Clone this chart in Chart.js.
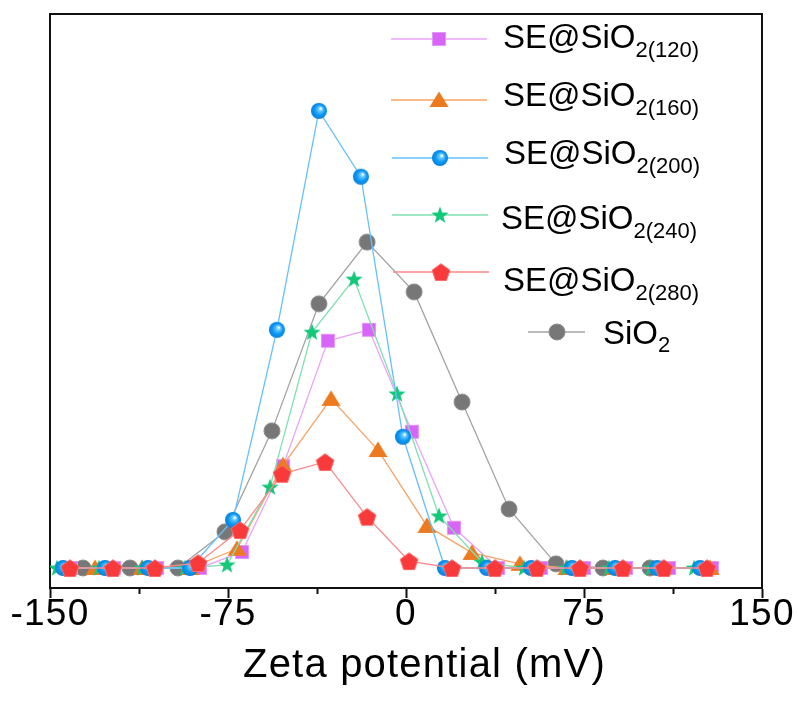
<!DOCTYPE html>
<html>
<head>
<meta charset="utf-8">
<title>Zeta potential distribution</title>
<script src="https://cdn.jsdelivr.net/npm/chart.js@4.4.1/dist/chart.umd.min.js"></script>
<style>
  html, body { margin: 0; padding: 0; background: #fff; }
  #wrap { width: 798px; height: 702px; }
</style>
</head>
<body>
<div id="wrap"><canvas id="chartZeta" width="798" height="702"></canvas></div>
<script>
// zeta potential (mV) / relative intensity, one pair per sample
const zeta120 = [-141.2, -123.0, -104.9, -86.8, -69.1, -51.8, -32.9, -15.6, 2.5, 20.2, 38.8, 56.9, 75.0, 92.7, 110.8, 128.9];
const int120  = [0, 0, 0, 0, 3.5, 22.3, 49.7, 52.1, 29.8, 8.8, 0, 0, 0, 0, 0, 0];

const zeta160 = [-131.0, -111.2, -91.0, -71.2, -51.8, -31.6, -11.8, 8.8, 27.8, 48.0, 67.8, 88.1, 107.9, 128.1];
const int160  = [0, 0, 0, 4.2, 22.5, 37.0, 25.8, 9.2, 3.3, 0.9, 0, 0, 0, 0];

const zeta200 = [-144.5, -126.8, -108.7, -91.0, -72.9, -54.4, -36.7, -19.0, -1.3, 16.4, 34.1, 52.7, 69.9, 88.1, 105.8, 123.9];
const int200  = [0, 0, 0, 0, 10.5, 52.1, 100, 85.6, 28.7, 0, 0, 0, 0, 0, 0, 0];

const zeta240 = [-147.1, -129.4, -111.2, -93.1, -75.4, -57.3, -39.6, -21.9, -3.8, 13.9, 32.0, 49.7, 67.4, 85.5, 103.2, 121.4];
const int240  = [0, 0, 0, 0, 0.7, 17.7, 51.6, 63.2, 38.1, 11.4, 1.3, 0, 0, 0, 0, 0];

const zeta280 = [-141.6, -123.5, -105.8, -87.6, -69.9, -52.2, -34.1, -16.4, 1.3, 19.4, 37.5, 55.2, 73.3, 91.4, 108.7, 126.8];
const int280  = [0, 0, 0, 1.1, 8.3, 20.6, 23.2, 11.2, 1.5, 0, 0, 0, 0, 0, 0, 0];

const zetaSiO2 = [-136.1, -116.3, -96.1, -76.3, -56.5, -36.7, -16.4, 3.4, 23.6, 43.4, 63.2, 83.0, 102.8];
const intSiO2  = [0, 0, 0, 7.9, 30.0, 57.8, 71.3, 60.4, 36.3, 12.9, 0.9, 0, 0];

const xTicks = [-150, -75, 0, 75, 150];

// marker sprites used as pointStyle
function sprite(draw) {
  const c = document.createElement('canvas');
  c.width = 22; c.height = 22;
  const g = c.getContext('2d');
  draw(g, 11);
  return c;
}

const mkSquare = sprite((g, h) => {
  g.fillStyle = '#d865f7';
  g.fillRect(h - 7, h - 7, 14, 14);
  g.strokeStyle = '#e597f9'; g.lineWidth = 1;
  g.strokeRect(h - 6.5, h - 6.5, 13, 13);
});

const mkTriangle = sprite((g, h) => {
  g.fillStyle = '#ee7a20';
  g.beginPath();
  g.moveTo(h, h - 8.5); g.lineTo(h + 9.5, h + 7); g.lineTo(h - 9.5, h + 7);
  g.closePath(); g.fill();
});

const mkSphere = sprite((g, h) => {
  const grad = g.createRadialGradient(h + 2, h - 2.5, 0.4, h, h, 8);
  grad.addColorStop(0, '#ffffff');
  grad.addColorStop(0.22, '#6ccaff');
  grad.addColorStop(0.62, '#0b9af5');
  grad.addColorStop(1, '#077fdc');
  g.fillStyle = grad;
  g.beginPath(); g.arc(h, h, 8, 0, Math.PI * 2); g.fill();
});

const mkStar = sprite((g, h) => {
  g.fillStyle = '#14c87a';
  g.beginPath();
  for (let i = 0; i < 10; i++) {
    const r = i % 2 ? 3.7 : 9;
    const a = -Math.PI / 2 + i * Math.PI / 5;
    g.lineTo(h + r * Math.cos(a), h + 0.5 + r * Math.sin(a));
  }
  g.closePath(); g.fill();
});

const mkPentagon = sprite((g, h) => {
  g.fillStyle = '#f93a3a';
  g.beginPath();
  for (let i = 0; i < 5; i++) {
    const a = -Math.PI / 2 + i * 2 * Math.PI / 5;
    g.lineTo(h + 9.3 * Math.cos(a), h + 1 + 9.3 * Math.sin(a));
  }
  g.closePath(); g.fill();
  g.strokeStyle = '#ff6a6a'; g.lineWidth = 1; g.stroke();
});

const mkDot = sprite((g, h) => {
  g.fillStyle = '#777777';
  g.beginPath(); g.arc(h, h, 8, 0, Math.PI * 2); g.fill();
  g.strokeStyle = '#8c8c8c'; g.lineWidth = 1; g.stroke();
});

const series = [
  { name: 'SE@SiO', sub: '2(120)', x: zeta120, y: int120, line: '#eba4f8', marker: mkSquare, order: 4 },
  { name: 'SE@SiO', sub: '2(160)', x: zeta160, y: int160, line: '#f5a468', marker: mkTriangle, order: 3 },
  { name: 'SE@SiO', sub: '2(200)', x: zeta200, y: int200, line: '#66c0ff', marker: mkSphere, order: 1 },
  { name: 'SE@SiO', sub: '2(240)', x: zeta240, y: int240, line: '#7fe0b2', marker: mkStar, order: 2 },
  { name: 'SE@SiO', sub: '2(280)', x: zeta280, y: int280, line: '#fb8a8a', marker: mkPentagon, order: 0 },
  { name: 'SiO', sub: '2', x: zetaSiO2, y: intSiO2, line: '#a3a3a3', marker: mkDot, order: 5 }
];

// legend rows: line span, text start and baseline
const legendRows = [
  { x0: 391, x1: 487, y: 39,  tx: 503, ty: 48 },
  { x0: 391, x1: 487, y: 100, tx: 503, ty: 106 },
  { x0: 392, x1: 488, y: 158, tx: 504, ty: 164 },
  { x0: 392, x1: 488, y: 215, tx: 501, ty: 229 },
  { x0: 393, x1: 489, y: 272, tx: 503, ty: 291 },
  { x0: 528, x1: 585, y: 332, tx: 603, ty: 344 }
];

const FONT = '"Liberation Sans", Arial, Helvetica, sans-serif';

// slight tracking on the axis title only
const spacing = {
  id: 'spacing',
  beforeDraw(chart) { chart.ctx.letterSpacing = '1.2px'; },
  beforeDatasetsDraw(chart) { chart.ctx.letterSpacing = '0px'; }
};

// closes the plot box on the top and right sides
const frameBox = {
  id: 'frameBox',
  afterDraw(chart) {
    const { ctx, chartArea: a } = chart;
    ctx.save();
    ctx.strokeStyle = '#111';
    ctx.lineWidth = 2;
    ctx.beginPath();
    ctx.moveTo(a.left, a.top);
    ctx.lineTo(a.right, a.top);
    ctx.lineTo(a.right, a.bottom);
    ctx.stroke();
    ctx.restore();
  }
};

const legend = {
  id: 'zetaLegend',
  afterDraw(chart) {
    const ctx = chart.ctx;
    ctx.save();
    ctx.letterSpacing = '0px';
    series.forEach((s, i) => {
      const r = legendRows[i];
      ctx.strokeStyle = s.line;
      ctx.lineWidth = 1.3;
      ctx.beginPath(); ctx.moveTo(r.x0, r.y); ctx.lineTo(r.x1, r.y); ctx.stroke();
      const m = s.marker;
      ctx.drawImage(m, Math.round((r.x0 + r.x1) / 2 - m.width / 2), r.y - m.height / 2);
      ctx.fillStyle = '#000';
      ctx.textAlign = 'left';
      ctx.textBaseline = 'alphabetic';
      ctx.font = '33px ' + FONT;
      ctx.fillText(s.name, r.tx, r.ty);
      const w = ctx.measureText(s.name).width;
      ctx.font = '22px ' + FONT;
      ctx.fillText(s.sub, r.tx + w, r.ty + (s.sub.length > 1 ? 9 : 8));
    });
    ctx.restore();
  }
};

const border = { display: true, color: '#111', width: 2 };

new Chart(document.getElementById('chartZeta'), {
  type: 'line',
  data: {
    datasets: series.map(s => ({
      label: s.name + s.sub,
      data: s.x.map((v, i) => ({ x: v, y: s.y[i] })),
      borderColor: s.line,
      borderWidth: 1.3,
      pointStyle: s.marker,
      pointRadius: 8,
      pointHoverRadius: 8,
      tension: 0,
      order: s.order
    }))
  },
  options: {
    responsive: false,
    animation: false,
    layout: { padding: { left: 50, right: 36, top: 14, bottom: 12 } },
    plugins: { legend: { display: false }, tooltip: { enabled: false } },
    scales: {
      x: {
        type: 'linear',
        min: -150, max: 150,
        grid: {
          display: true, drawOnChartArea: false, drawTicks: true,
          tickLength: 10, tickWidth: 2, tickColor: '#111',
          tickBorderDash: c => xTicks.includes(c.tick && c.tick.value) ? [] : [5, 30]
        },
        border: border,
        ticks: {
          stepSize: 37.5, autoSkip: false, maxRotation: 0, padding: -2,
          color: '#000', font: { family: FONT, size: 37, lineHeight: 1 },
          callback: v => xTicks.includes(v) ? String(v) : ''
        },
        title: {
          display: true, text: '   Zeta potential (mV)', color: '#000',
          font: { family: FONT, size: 40, lineHeight: 1 }, padding: { top: 15, bottom: 4 }
        }
      },
      y: {
        min: -4.38, max: 121.2,
        grid: { display: false, drawTicks: false },
        border: border,
        ticks: { display: false }
      }
    }
  },
  plugins: [spacing, frameBox, legend]
});
</script>
</body>
</html>
